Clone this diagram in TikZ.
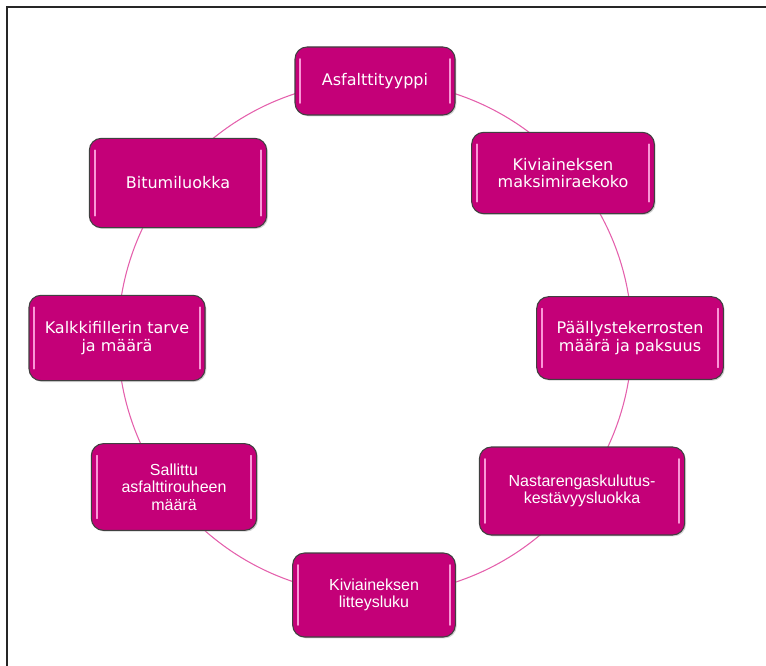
\documentclass[tikz,border=0pt]{standalone}
\usepackage{fontspec}
\setmainfont{Liberation Sans}
\newfontfamily\verdfont{DejaVu Sans}
\usetikzlibrary{positioning, shadows}
\definecolor{magentabox}{RGB}{196, 0, 120}
\definecolor{ringpink}{RGB}{228, 96, 172}
\definecolor{glosspink}{RGB}{250, 150, 215}

\begin{document}
\begin{tikzpicture}[
  x=0.75pt, y=-0.75pt,
  every node/.style={font=\fontsize{12}{13}\selectfont},
  box/.style={rectangle, rounded corners=9pt, draw=black!75, line width=0.8pt,
              fill=magentabox, text=white, align=center,
              drop shadow={shadow xshift=1pt, shadow yshift=-1pt, opacity=0.35},
              path picture={
                \draw[glosspink, line width=1.3pt, line cap=round]
                  ([xshift=4pt, yshift=-9pt]path picture bounding box.north west) --
                  ([xshift=4pt, yshift=9pt]path picture bounding box.south west);
                \draw[glosspink, line width=1.3pt, line cap=round]
                  ([xshift=-4pt, yshift=-9pt]path picture bounding box.north east) --
                  ([xshift=-4pt, yshift=9pt]path picture bounding box.south east);
              }},
  ring/.style={ringpink, line width=0.8pt}
]
\useasboundingbox (0,0) rectangle (766,666);
% frame
\draw[line width=1.6pt, black!85] (7,666) -- (7,7) -- (766,7);

% ring behind the boxes
\coordinate (ctr) at (375,338);
\draw[ring] (ctr) circle[radius=257];

\node[box, minimum width=120pt, minimum height=51pt] (asf) at (375,81)
  {\verdfont Asfalttityyppi};
\node[box, minimum width=137pt, minimum height=61pt] (raekoko) at (563,173)
  {\verdfont Kiviaineksen\\\verdfont maksimiraekoko};
\node[box, minimum width=140pt, minimum height=62pt] (kerrokset) at (630,338)
  {\verdfont Päällystekerrosten\\\verdfont määrä ja paksuus};
\node[box, minimum width=154pt, minimum height=66pt] (nasta) at (582,491)
  {Nastarengaskulutus-\\kestävyysluokka};
\node[box, minimum width=122pt, minimum height=63pt] (litteys) at (374,595)
  {Kiviaineksen\\litteysluku};
\node[box, minimum width=124pt, minimum height=65pt] (rouhe) at (174,487)
  {Sallittu\\asfalttirouheen\\määrä};
\node[box, minimum width=132pt, minimum height=64pt] (filleri) at (117,338)
  {\verdfont Kalkkifillerin tarve\\\verdfont ja määrä};
\node[box, minimum width=133pt, minimum height=67pt] (bitumi) at (178,183)
  {\verdfont Bitumiluokka};
\end{tikzpicture}
\end{document}
